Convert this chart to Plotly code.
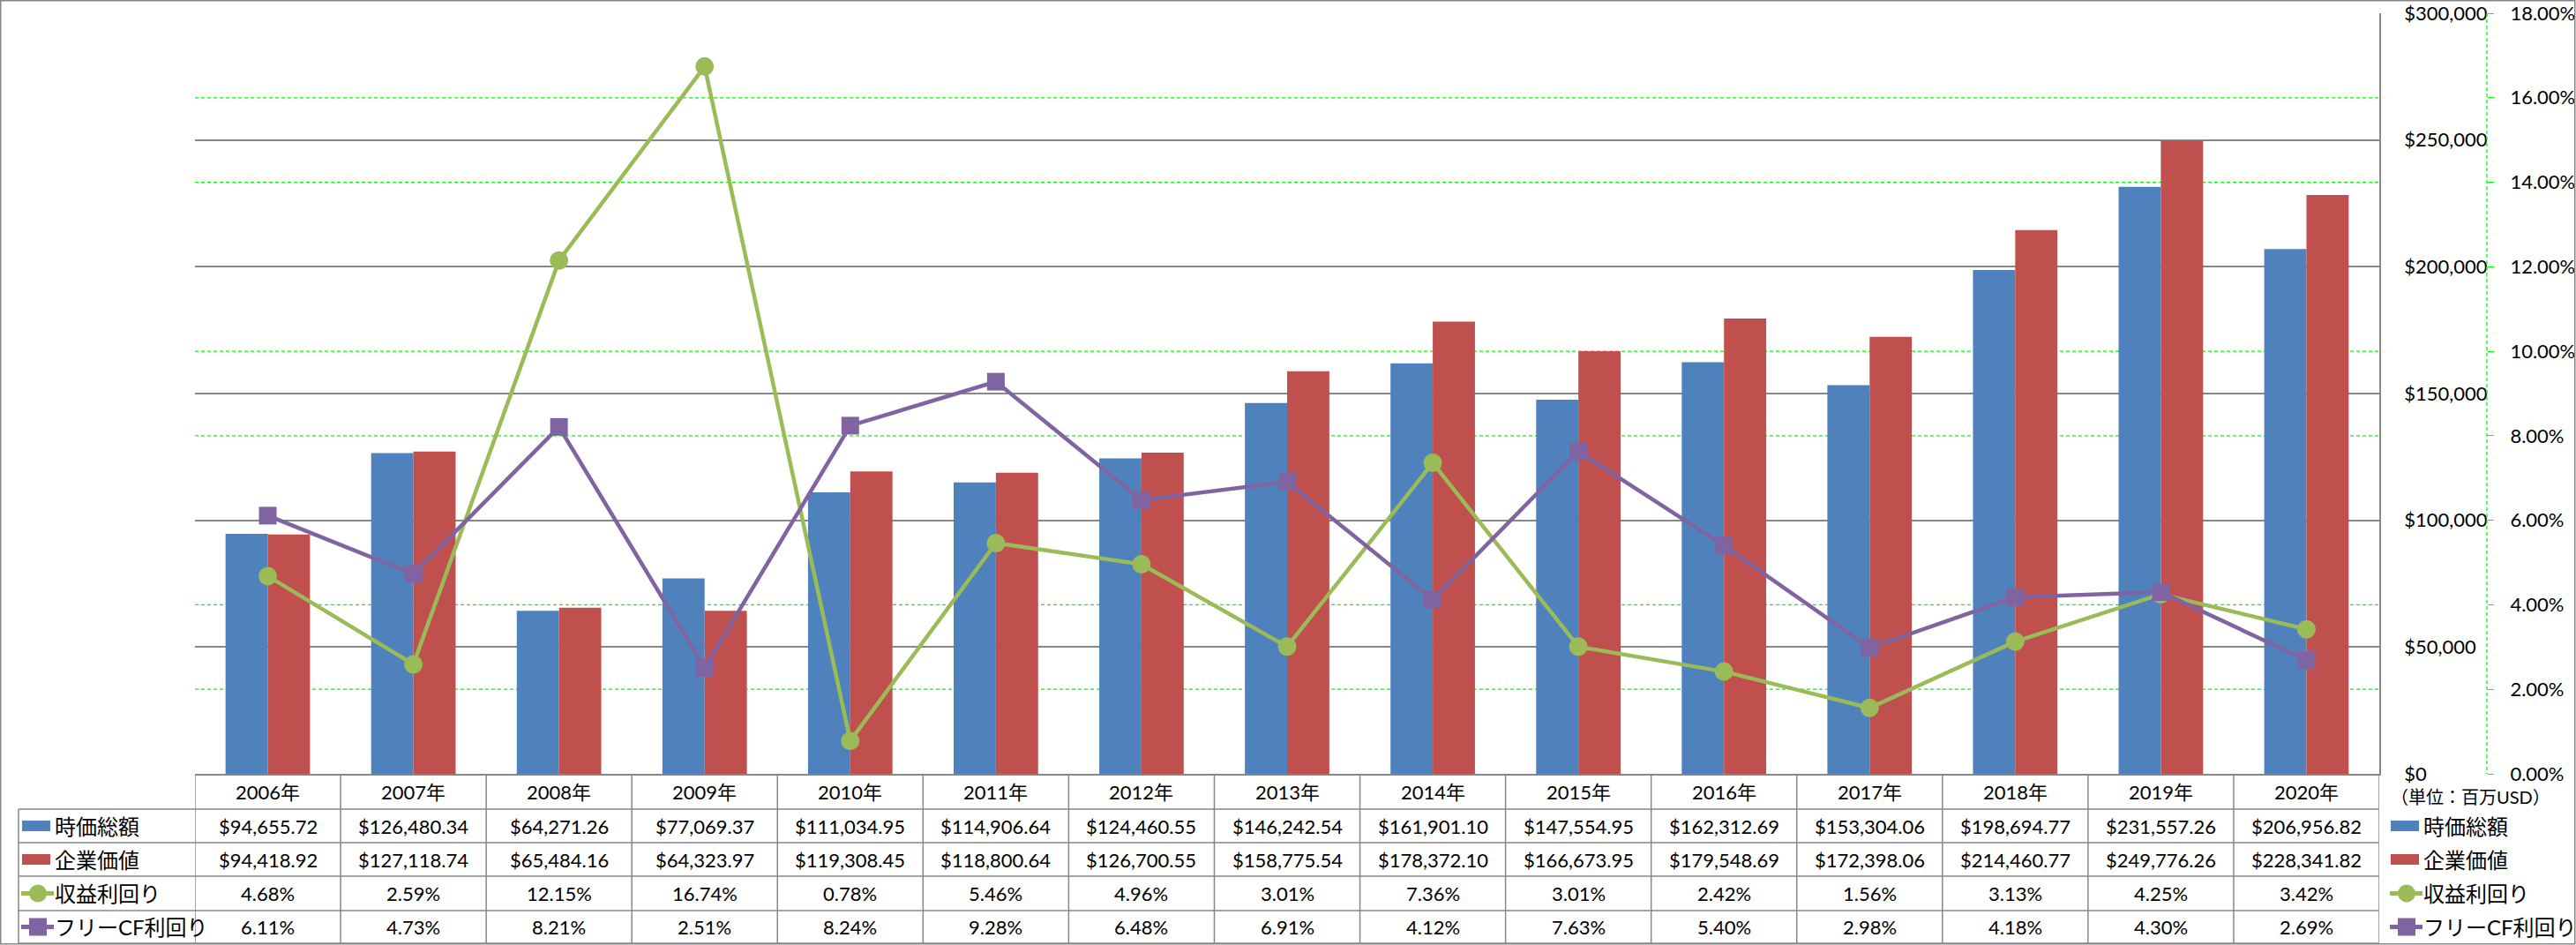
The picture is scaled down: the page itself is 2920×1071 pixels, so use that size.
import plotly.graph_objects as go

# ---------------- data ----------------
years = ["2006年", "2007年", "2008年", "2009年", "2010年", "2011年", "2012年", "2013年",
         "2014年", "2015年", "2016年", "2017年", "2018年", "2019年", "2020年"]
market_cap = [94655.72, 126480.34, 64271.26, 77069.37, 111034.95, 114906.64, 124460.55,
              146242.54, 161901.10, 147554.95, 162312.69, 153304.06, 198694.77, 231557.26,
              206956.82]
enterprise_value = [94418.92, 127118.74, 65484.16, 64323.97, 119308.45, 118800.64, 126700.55,
                    158775.54, 178372.10, 166673.95, 179548.69, 172398.06, 214460.77,
                    249776.26, 228341.82]
earnings_yield = [4.68, 2.59, 12.15, 16.74, 0.78, 5.46, 4.96, 3.01, 7.36, 3.01, 2.42, 1.56,
                  3.13, 4.25, 3.42]
fcf_yield = [6.11, 4.73, 8.21, 2.51, 8.24, 9.28, 6.48, 6.91, 4.12, 7.63, 5.40, 2.98, 4.18,
             4.30, 2.69]
series_names = ["時価総額", "企業価値", "収益利回り", "フリーCF利回り"]
unit_label = "（単位：百万USD）"

# ---------------- style ----------------
W, H = 2920, 1071
BLUE, RED, GREEN, PURPLE = "#4F81BD", "#C0504D", "#9BBB59", "#8064A2"
GRID = "#878787"
LIME = "#00FF00"
FONT = "Lato, 'Noto Sans CJK JP', sans-serif"
PLOT_L, PLOT_R, PLOT_T, PLOT_B = 221, 2697, 15, 877
ROW_LINES = [917, 955, 993, 1032, 1069]
TABLE_LEFT = 21
Y2_RANGE, Y2_DTICK = 0.18, 0.02


def px(x):
    return x / W


def py(y):
    return (H - y) / H


fig = go.Figure()
fig.add_trace(go.Bar(x=years, y=market_cap, name=series_names[0], marker_color=BLUE,
                     marker_line_width=0))
fig.add_trace(go.Bar(x=years, y=enterprise_value, name=series_names[1], marker_color=RED,
                     marker_line_width=0))
fig.add_trace(go.Scatter(x=years, y=[v / 100 for v in earnings_yield], name=series_names[2],
                         yaxis="y2", mode="lines+markers",
                         line=dict(color=GREEN, width=4.5),
                         marker=dict(symbol="circle", size=21, color=GREEN)))
fig.add_trace(go.Scatter(x=years, y=[v / 100 for v in fcf_yield], name=series_names[3],
                         yaxis="y2", mode="lines+markers",
                         line=dict(color=PURPLE, width=4.5),
                         marker=dict(symbol="square", size=20, color=PURPLE)))

shapes = []
annotations = []

# secondary-axis gridlines (below the primary gray gridlines)
n_grid = int(round(Y2_RANGE / Y2_DTICK))
for k in range(1, n_grid):
    shapes.append(dict(type="line", xref="paper", yref="y2", x0=px(PLOT_L), x1=px(PLOT_R),
                       y0=k * Y2_DTICK, y1=k * Y2_DTICK, layer="below",
                       line=dict(color=LIME, width=1.3, dash="4px,3px")))

# secondary axis dashed line
shapes.append(dict(type="line", xref="paper", yref="paper", x0=px(2819), x1=px(2819),
                   y0=py(PLOT_T), y1=py(PLOT_B), line=dict(color=LIME, width=1.3, dash="4px,3px")))

# table lines
for i, yl in enumerate(ROW_LINES):
    shapes.append(dict(type="line", xref="paper", yref="paper", x0=px(TABLE_LEFT), x1=px(PLOT_R),
                       y0=py(yl), y1=py(yl), line=dict(color=GRID, width=1.5)))
shapes.append(dict(type="line", xref="paper", yref="paper", x0=px(TABLE_LEFT), x1=px(TABLE_LEFT),
                   y0=py(ROW_LINES[0]), y1=py(ROW_LINES[-1]), line=dict(color=GRID, width=1.5)))
for k in range(len(years) + 1):
    shapes.append(dict(type="line", xref="x", yref="paper", x0=k - 0.5, x1=k - 0.5,
                       y0=py(PLOT_B), y1=py(ROW_LINES[-1]), line=dict(color=GRID, width=1.5)))

# outer border
shapes.append(dict(type="rect", xref="paper", yref="paper", x0=px(0.75), x1=px(W - 1.25),
                   y0=py(H - 1.25), y1=py(0.75), line=dict(color=GRID, width=1.5)))

row_centers = [(PLOT_B + ROW_LINES[0]) / 2] + [
    (ROW_LINES[i] + ROW_LINES[i + 1]) / 2 for i in range(len(ROW_LINES) - 1)]

rows = [
    [f"${v:,.2f}" for v in market_cap],
    [f"${v:,.2f}" for v in enterprise_value],
    [f"{v:.2f}%" for v in earnings_yield],
    [f"{v:.2f}%" for v in fcf_yield],
]
for j, yr in enumerate(years):
    annotations.append(dict(x=yr, xref="x", y=py(row_centers[0]), yref="paper", text=yr,
                            xanchor="center", yanchor="middle",
                            showarrow=False, font=dict(size=22, color="black", family=FONT)))
    for r in range(4):
        annotations.append(dict(x=yr, xref="x", y=py(row_centers[r + 1]), yref="paper",
                                text=rows[r][j], showarrow=False,
                                xanchor="center", yanchor="middle",
                                font=dict(size=22, color="black", family=FONT)))


def add_key(kind, color, x_left, yc, text_x, label):
    if kind == "box":
        shapes.append(dict(type="rect", xref="paper", yref="paper", x0=px(x_left),
                           x1=px(x_left + 32), y0=py(yc + 6), y1=py(yc - 6),
                           fillcolor=color, line=dict(width=0)))
    else:
        shapes.append(dict(type="line", xref="paper", yref="paper", x0=px(x_left - 1),
                           x1=px(x_left + 36), y0=py(yc), y1=py(yc),
                           line=dict(color=color, width=5)))
        cx = x_left + 18
        shapes.append(dict(type="circle" if kind == "circle" else "rect", xref="paper",
                           yref="paper", x0=px(cx - 10), x1=px(cx + 10), y0=py(yc + 10),
                           y1=py(yc - 10), fillcolor=color, line=dict(width=0)))
    annotations.append(dict(x=px(text_x), xref="paper", y=py(yc), yref="paper", text=label,
                            xanchor="left", yanchor="middle", showarrow=False,
                            font=dict(size=24, color="black", family=FONT)))


kinds = ["box", "box", "circle", "square"]
colors = [BLUE, RED, GREEN, PURPLE]
for r in range(4):
    add_key(kinds[r], colors[r], 25, row_centers[r + 1], 60, series_names[r])
    add_key(kinds[r], colors[r], 2710, row_centers[r + 1], 2745, series_names[r])

annotations.append(dict(x=px(2708), xref="paper", y=py(903), yref="paper", text=unit_label,
                        xanchor="left", yanchor="middle", showarrow=False,
                        font=dict(size=20, color="black", family=FONT)))

fig.update_layout(
    width=W, height=H,
    margin=dict(l=0, r=0, t=0, b=0),
    paper_bgcolor="white", plot_bgcolor="white",
    barmode="group", bargap=0.42, bargroupgap=0,
    showlegend=False,
    font=dict(family=FONT, size=22, color="black"),
    xaxis=dict(domain=[px(PLOT_L), px(PLOT_R)], type="category", range=[-0.5, 14.5],
               showticklabels=False, ticks="", showgrid=False, showline=True,
               linecolor=GRID, linewidth=1.5, zeroline=False),
    yaxis=dict(domain=[py(PLOT_B), py(PLOT_T)], side="right", range=[0, 300000],
               dtick=50000, tickprefix="$", tickformat=",d", showgrid=True,
               gridcolor=GRID, gridwidth=1.5, showline=True, linecolor=GRID, linewidth=1.5,
               ticks="", zeroline=False, ticklabelstandoff=22,
               tickfont=dict(size=22, family=FONT, color="black"), automargin=False),
    yaxis2=dict(overlaying="y", anchor="free", position=px(2819), side="right",
                range=[0, Y2_RANGE], dtick=Y2_DTICK, tickformat=".2%", showgrid=False,
                showline=False,
                ticks="outside", ticklen=7, tickcolor=LIME, tickwidth=1.3, zeroline=False,
                ticklabelstandoff=14, tickfont=dict(size=22, family=FONT, color="black"),
                automargin=False),
    shapes=shapes,
    annotations=annotations,
)

fig.write_html("out.html", config={"displayModeBar": False},
               post_script="document.body.style.margin='0';document.body.style.overflow='hidden';")
